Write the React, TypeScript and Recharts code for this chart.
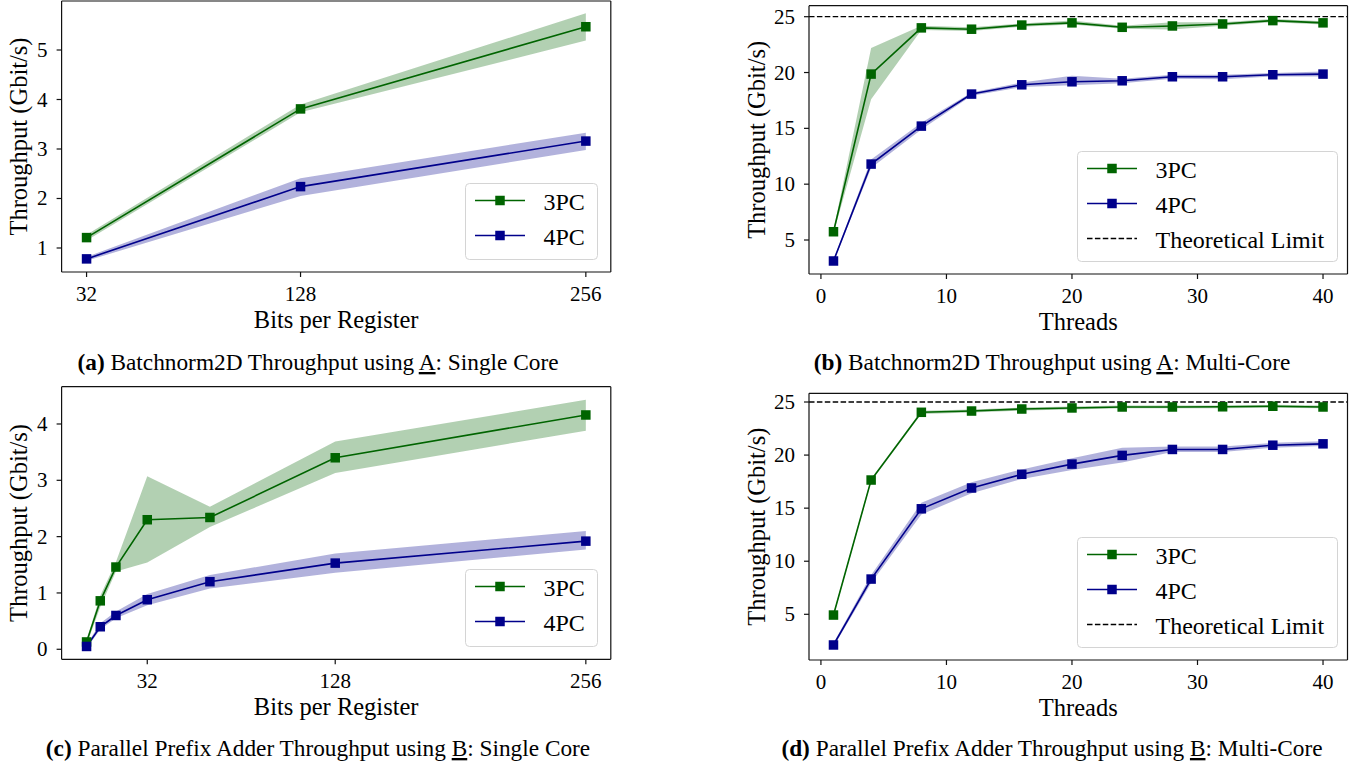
import React from "react";
import { Area, ComposedChart, Line, ReferenceLine, XAxis, YAxis } from "recharts";

const GREEN = "#006400";
const BLUE = "#00008b";
const SERIF = '"Liberation Serif", "DejaVu Serif", serif';
const FRAME = { stroke: "#111", strokeWidth: 1.2 };

// (a) Batchnorm2D, single core
const bitsA = [32, 128, 256];
const a3pc = [1.21, 3.81, 5.47];
const a3pcLo = [1.15, 3.74, 5.19];
const a3pcHi = [1.27, 3.9, 5.74];
const a4pc = [0.78, 2.24, 3.16];
const a4pcLo = [0.74, 2.05, 2.98];
const a4pcHi = [0.82, 2.41, 3.33];

// (b) Batchnorm2D, multi core
const threads = [1, 4, 8, 12, 16, 20, 24, 28, 32, 36, 40];
const b3pc = [5.74, 19.86, 24.0, 23.88, 24.25, 24.45, 24.05, 24.17, 24.35, 24.65, 24.45];
const b3pcLo = [5.58, 17.6, 23.8, 23.72, 24.1, 24.3, 23.92, 23.85, 24.2, 24.5, 24.3];
const b3pcHi = [5.9, 22.2, 24.2, 24.05, 24.4, 24.65, 24.2, 24.5, 24.5, 24.8, 24.6];
const b4pc = [3.12, 11.8, 15.2, 18.07, 18.9, 19.17, 19.26, 19.62, 19.62, 19.8, 19.86];
const b4pcLo = [3.0, 11.45, 14.9, 17.92, 18.7, 18.85, 19.05, 19.45, 19.4, 19.65, 19.65];
const b4pcHi = [3.25, 12.2, 15.5, 18.22, 19.1, 19.7, 19.45, 19.8, 19.8, 19.95, 20.1];

// (c) Parallel prefix adder, single core
const bitsC = [1, 8, 16, 32, 64, 128, 256];
const c3pc = [0.13, 0.86, 1.46, 2.3, 2.34, 3.4, 4.16];
const c3pcLo = [0.08, 0.75, 1.38, 1.54, 2.17, 3.13, 3.88];
const c3pcHi = [0.17, 0.95, 1.55, 3.07, 2.53, 3.69, 4.43];
const c4pc = [0.05, 0.4, 0.6, 0.88, 1.2, 1.53, 1.92];
const c4pcLo = [0.02, 0.35, 0.55, 0.78, 1.08, 1.36, 1.77];
const c4pcHi = [0.08, 0.46, 0.67, 0.98, 1.32, 1.7, 2.1];

// (d) Parallel prefix adder, multi core
const d3pc = [4.93, 17.65, 24.03, 24.15, 24.34, 24.44, 24.53, 24.53, 24.55, 24.6, 24.53];
const d3pcLo = [4.8, 17.5, 23.88, 24.0, 24.2, 24.3, 24.4, 24.4, 24.42, 24.47, 24.4];
const d3pcHi = [5.06, 17.8, 24.18, 24.3, 24.48, 24.58, 24.66, 24.66, 24.68, 24.73, 24.66];
const d4pc = [2.11, 8.32, 14.94, 16.9, 18.19, 19.15, 19.97, 20.53, 20.53, 20.93, 21.06];
const d4pcLo = [1.95, 7.95, 14.4, 16.4, 17.75, 18.6, 19.3, 20.3, 20.3, 20.7, 20.85];
const d4pcHi = [2.3, 8.7, 15.5, 17.45, 18.65, 19.7, 20.7, 20.8, 20.8, 21.15, 21.3];

const bitsTicks = [32, 128, 256];
const threadTicks = [0, 10, 20, 30, 40];
const limit = 25;

const seriesLabels = ["3PC", "4PC"];
const limitLabel = "Theoretical Limit";

type Row = { x: number; g: number; gLo: number; gHi: number; b: number; bLo: number; bHi: number };

function buildRows(
  xs: number[],
  g: number[],
  gLo: number[],
  gHi: number[],
  b: number[],
  bLo: number[],
  bHi: number[],
): Row[] {
  return xs.map((x, i) => ({ x, g: g[i], gLo: gLo[i], gHi: gHi[i], b: b[i], bLo: bLo[i], bHi: bHi[i] }));
}

function squareDot(color: string) {
  return (props: any) => {
    const { cx, cy, index } = props;
    if (cx == null || cy == null) return <g key={index} />;
    return <rect key={index} x={cx - 4.75} y={cy - 4.75} width={9.5} height={9.5} fill={color} />;
  };
}

type PanelProps = {
  left: number;
  top: number;
  width: number;
  height: number;
  plot: { l: number; r: number; t: number; b: number };
  rows: Row[];
  xDomain: [number, number];
  xTicks: number[];
  yDomain: [number, number];
  yTicks: number[];
  xTitle: string;
  yTitleX: number;
  showLimit?: boolean;
};

function Panel(p: PanelProps) {
  const topH = p.plot.t - p.top;
  const leftW = p.plot.l - p.left;
  const rightW = p.left + p.width - p.plot.r;
  const bottomH = p.top + p.height - p.plot.b;
  const midX = (p.plot.l + p.plot.r) / 2 - p.left;
  const midY = (p.plot.t + p.plot.b) / 2 - p.top;
  const titleX = p.yTitleX - p.left;

  return (
    <div style={{ position: "absolute", left: p.left, top: p.top }}>
      <ComposedChart
        width={p.width}
        height={p.height}
        data={p.rows}
        margin={{ top: 0, right: 0, bottom: 0, left: 0 }}
      >
        <XAxis
          xAxisId="b"
          type="number"
          dataKey="x"
          domain={p.xDomain}
          ticks={p.xTicks}
          allowDataOverflow
          interval={0}
          height={bottomH}
          tickSize={5}
          tickMargin={10}
          axisLine={FRAME}
          tickLine={FRAME}
          tick={(t: any) => (
            <text x={t.x} y={t.y + 14} textAnchor="middle" fontFamily={SERIF} fontSize={21} fill="#000">
              {t.payload.value}
            </text>
          )}
          label={{
            content: () => (
              <text
                x={midX}
                y={p.plot.b - p.top + 55.5}
                textAnchor="middle"
                fontFamily={SERIF}
                fontSize={24.5}
                fill="#000"
              >
                {p.xTitle}
              </text>
            ),
          }}
        />
        <XAxis
          xAxisId="t"
          orientation="top"
          type="number"
          dataKey="x"
          domain={p.xDomain}
          ticks={p.xTicks}
          allowDataOverflow
          interval={0}
          height={topH}
          tickSize={5}
          axisLine={FRAME}
          tickLine={FRAME}
          tick={false}
        />
        <YAxis
          yAxisId="l"
          type="number"
          domain={p.yDomain}
          ticks={p.yTicks}
          allowDataOverflow
          interval={0}
          width={leftW}
          tickSize={5}
          tickMargin={9}
          axisLine={FRAME}
          tickLine={FRAME}
          tick={(t: any) => (
            <text x={t.x} y={t.y + 7} textAnchor="end" fontFamily={SERIF} fontSize={21} fill="#000">
              {t.payload.value}
            </text>
          )}
          label={{
            content: () => (
              <text
                transform={`translate(${titleX} ${midY}) rotate(-90)`}
                x={0}
                y={0}
                textAnchor="middle"
                fontFamily={SERIF}
                fontSize={24.5}
                fill="#000"
              >
                Throughput (Gbit/s)
              </text>
            ),
          }}
        />
        <YAxis
          yAxisId="r"
          orientation="right"
          type="number"
          domain={p.yDomain}
          ticks={p.yTicks}
          allowDataOverflow
          interval={0}
          width={rightW}
          tickSize={5}
          axisLine={FRAME}
          tickLine={FRAME}
          tick={false}
        />
        <Area
          xAxisId="b"
          yAxisId="l"
          type="linear"
          dataKey={(d: Row) => [d.gLo, d.gHi]}
          stroke="none"
          fill={GREEN}
          fillOpacity={0.3}
          isAnimationActive={false}
        />
        <Area
          xAxisId="b"
          yAxisId="l"
          type="linear"
          dataKey={(d: Row) => [d.bLo, d.bHi]}
          stroke="none"
          fill={BLUE}
          fillOpacity={0.3}
          isAnimationActive={false}
        />
        {p.showLimit && (
          <ReferenceLine
            xAxisId="b"
            yAxisId="l"
            y={limit}
            stroke="#000"
            strokeWidth={1.3}
            strokeDasharray="5.5 2.4"
          />
        )}
        <Line
          xAxisId="b"
          yAxisId="l"
          type="linear"
          dataKey="g"
          stroke={GREEN}
          strokeWidth={1.6}
          dot={squareDot(GREEN)}
          activeDot={false}
          isAnimationActive={false}
        />
        <Line
          xAxisId="b"
          yAxisId="l"
          type="linear"
          dataKey="b"
          stroke={BLUE}
          strokeWidth={1.6}
          dot={squareDot(BLUE)}
          activeDot={false}
          isAnimationActive={false}
        />
      </ComposedChart>
    </div>
  );
}

function LegendBox({ x, y, w, h, withLimit }: { x: number; y: number; w: number; h: number; withLimit?: boolean }) {
  const entries = [
    { label: seriesLabels[0], color: GREEN, dashed: false },
    { label: seriesLabels[1], color: BLUE, dashed: false },
    ...(withLimit ? [{ label: limitLabel, color: "#000", dashed: true }] : []),
  ];
  return (
    <svg style={{ position: "absolute", left: x, top: y }} width={w + 2} height={h + 2}>
      <rect x={0.5} y={0.5} width={w} height={h} rx={4} fill="#fff" fillOpacity={0.8} stroke="#d4d4d4" />
      {entries.map((e, i) => {
        const cy = 17.5 + i * 35;
        return (
          <g key={e.label}>
            <line
              x1={10}
              x2={60}
              y1={cy}
              y2={cy}
              stroke={e.color}
              strokeWidth={e.dashed ? 1.3 : 1.6}
              strokeDasharray={e.dashed ? "5.5 2.4" : undefined}
            />
            {!e.dashed && <rect x={30.25} y={cy - 4.75} width={9.5} height={9.5} fill={e.color} />}
            <text x={78.5} y={cy + 9} fontFamily={SERIF} fontSize={24} fill="#000">
              {e.label}
            </text>
          </g>
        );
      })}
    </svg>
  );
}

function Captions() {
  const caps = [
    { x: 318, y: 370, tag: "(a)", pre: " Batchnorm2D Throughput using ", u: "A", post: ": Single Core" },
    { x: 1052, y: 370, tag: "(b)", pre: " Batchnorm2D Throughput using ", u: "A", post: ": Multi-Core" },
    { x: 318, y: 756, tag: "(c)", pre: " Parallel Prefix Adder Throughput using ", u: "B", post: ": Single Core" },
    { x: 1052, y: 756, tag: "(d)", pre: " Parallel Prefix Adder Throughput using ", u: "B", post: ": Multi-Core" },
  ];
  return (
    <svg style={{ position: "absolute", left: 0, top: 0 }} width={1357} height={767}>
      {caps.map((c) => (
        <text key={c.tag} x={c.x} y={c.y} textAnchor="middle" fontFamily={SERIF} fontSize={23.3} fill="#000">
          <tspan fontWeight="bold">{c.tag}</tspan>
          <tspan style={{ whiteSpace: "pre" }}>{c.pre}</tspan>
          <tspan style={{ textDecoration: "underline" }}>{c.u}</tspan>
          <tspan style={{ whiteSpace: "pre" }}>{c.post}</tspan>
        </text>
      ))}
    </svg>
  );
}

export default function App() {
  const rowsA = buildRows(bitsA, a3pc, a3pcLo, a3pcHi, a4pc, a4pcLo, a4pcHi);
  const rowsB = buildRows(threads, b3pc, b3pcLo, b3pcHi, b4pc, b4pcLo, b4pcHi);
  const rowsC = buildRows(bitsC, c3pc, c3pcLo, c3pcHi, c4pc, c4pcLo, c4pcHi);
  const rowsD = buildRows(threads, d3pc, d3pcLo, d3pcHi, d4pc, d4pcLo, d4pcHi);

  return (
    <div
      style={{
        position: "absolute",
        left: 0,
        top: 0,
        width: 1357,
        height: 767,
        background: "#fff",
        overflow: "hidden",
      }}
    >
      <Panel
        left={0}
        top={-20}
        width={630}
        height={360}
        plot={{ l: 61.6, r: 610.8, t: 1, b: 272 }}
        rows={rowsA}
        xDomain={[20.8, 267.2]}
        xTicks={bitsTicks}
        yDomain={[0.515, 5.99]}
        yTicks={[1, 2, 3, 4, 5]}
        xTitle="Bits per Register"
        yTitleX={27}
      />
      <Panel
        left={740}
        top={-20}
        width={617}
        height={360}
        plot={{ l: 809, r: 1347.5, t: 5.7, b: 274 }}
        rows={rowsB}
        xDomain={[-0.95, 41.95]}
        xTicks={threadTicks}
        yDomain={[1.955, 25.985]}
        yTicks={[5, 10, 15, 20, 25]}
        xTitle="Threads"
        yTitleX={765}
        showLimit
      />
      <Panel
        left={0}
        top={360}
        width={630}
        height={360}
        plot={{ l: 61.6, r: 610.8, t: 386.7, b: 659.3 }}
        rows={rowsC}
        xDomain={[-11.75, 268.75]}
        xTicks={bitsTicks}
        yDomain={[-0.178, 4.662]}
        yTicks={[0, 1, 2, 3, 4]}
        xTitle="Bits per Register"
        yTitleX={27}
      />
      <Panel
        left={740}
        top={360}
        width={617}
        height={360}
        plot={{ l: 809, r: 1347.5, t: 393.3, b: 660 }}
        rows={rowsD}
        xDomain={[-0.95, 41.95]}
        xTicks={threadTicks}
        yDomain={[0.695, 25.82]}
        yTicks={[5, 10, 15, 20, 25]}
        xTitle="Threads"
        yTitleX={765}
        showLimit
      />
      <LegendBox x={465} y={183} w={132} h={76} />
      <LegendBox x={1077} y={150.7} w={260} h={110} withLimit />
      <LegendBox x={465} y={569} w={132} h={77} />
      <LegendBox x={1077} y={537} w={260} h={110} withLimit />
      <Captions />
    </div>
  );
}
